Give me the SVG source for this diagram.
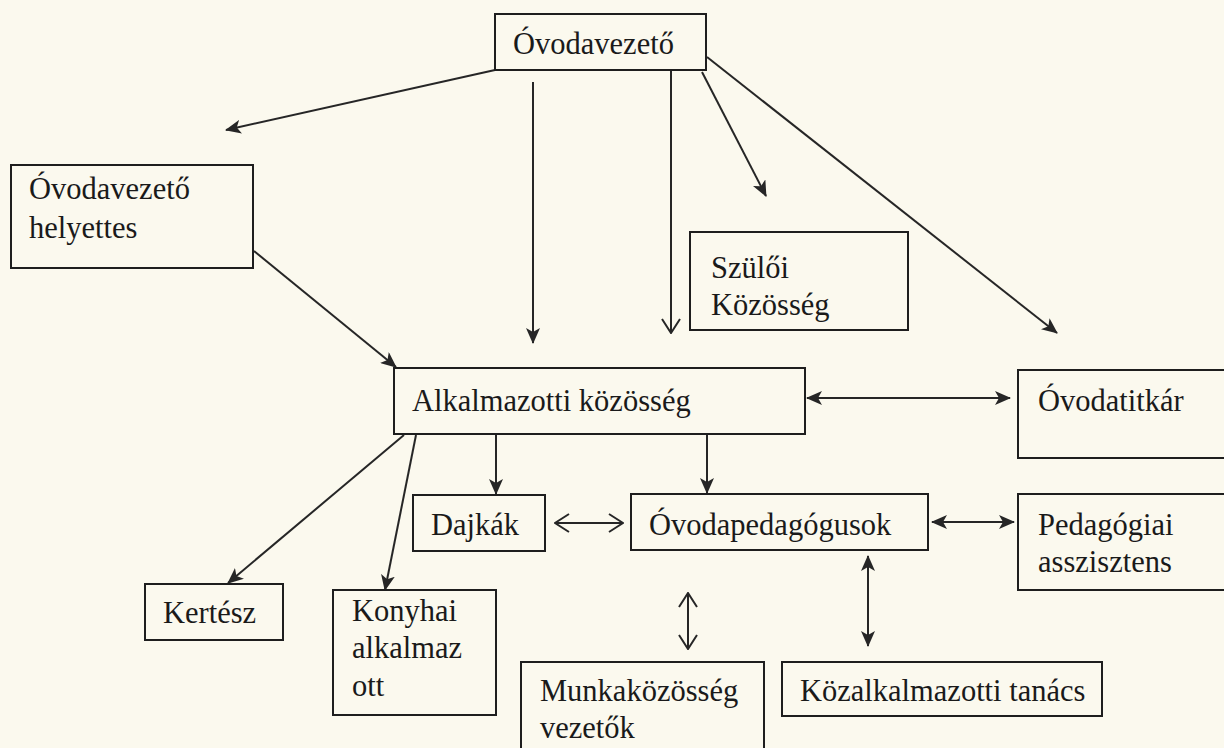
<svg xmlns="http://www.w3.org/2000/svg" width="1224" height="748" viewBox="0 0 1224 748">
  <style>
    .box { fill: none; stroke: #1e1e1e; stroke-width: 2; }
    .lbl { font-family: "Liberation Serif", "Times New Roman", serif; font-size: 30.5px; fill: #1a1a1a; }
    .ln { fill: none; stroke: #262626; stroke-width: 2; }
  </style>
  <defs>
    <!-- filled arrowhead with a slight notch -->
    <marker id="solid" viewBox="0 0 16 14" refX="15" refY="7" markerWidth="16" markerHeight="14" markerUnits="userSpaceOnUse" orient="auto-start-reverse">
      <path d="M0,0 L16,7 L0,14 L4,7 Z" fill="#262626"/>
    </marker>
    <!-- open chevron arrowhead -->
    <marker id="open" viewBox="0 0 16 20" refX="15" refY="10" markerWidth="16" markerHeight="20" markerUnits="userSpaceOnUse" orient="auto-start-reverse">
      <path d="M1,1 L15,10 L1,19" fill="none" stroke="#262626" stroke-width="2"/>
    </marker>
  </defs>
  <rect width="1224" height="748" fill="#fbf9ee"/>

  <g id="connectors">
    <line class="ln" x1="495" y1="70" x2="226" y2="130" marker-end="url(#solid)"/>
    <line class="ln" x1="533" y1="82" x2="533" y2="343" marker-end="url(#solid)"/>
    <line class="ln" x1="671" y1="70" x2="671" y2="333" marker-end="url(#open)"/>
    <line class="ln" x1="702" y1="72" x2="766" y2="196" marker-end="url(#solid)"/>
    <line class="ln" x1="707" y1="57" x2="1057" y2="333" marker-end="url(#solid)"/>
    <line class="ln" x1="254" y1="251" x2="396" y2="367" marker-end="url(#solid)"/>
    <line class="ln" x1="807" y1="398" x2="1010" y2="398" marker-start="url(#solid)" marker-end="url(#solid)"/>
    <line class="ln" x1="496" y1="434" x2="496" y2="494" marker-end="url(#solid)"/>
    <line class="ln" x1="707" y1="434" x2="707" y2="493" marker-end="url(#solid)"/>
    <line class="ln" x1="404" y1="435" x2="228" y2="583" marker-end="url(#solid)"/>
    <line class="ln" x1="416" y1="435" x2="385" y2="590" marker-end="url(#solid)"/>
    <line class="ln" x1="555" y1="523" x2="623" y2="523" marker-start="url(#open)" marker-end="url(#open)"/>
    <line class="ln" x1="932" y1="522" x2="1014" y2="522" marker-start="url(#solid)" marker-end="url(#solid)"/>
    <line class="ln" x1="688" y1="593" x2="688" y2="649" marker-start="url(#open)" marker-end="url(#open)"/>
    <line class="ln" x1="868" y1="556" x2="868" y2="646" marker-start="url(#solid)" marker-end="url(#solid)"/>
  </g>

  <g id="ovodavezeto">
    <rect class="box" x="495" y="14" width="211" height="56"/>
    <text class="lbl" x="513" y="54">Óvodavezető</text>
  </g>
  <g id="helyettes">
    <rect class="box" x="11" y="165" width="242" height="103"/>
    <text class="lbl" x="29" y="199">Óvodavezető</text>
    <text class="lbl" x="29" y="238">helyettes</text>
  </g>
  <g id="szuloi">
    <rect class="box" x="690" y="232" width="218" height="98"/>
    <text class="lbl" x="711" y="278">Szülői</text>
    <text class="lbl" x="711" y="315">Közösség</text>
  </g>
  <g id="alkalmazotti">
    <rect class="box" x="394" y="368" width="411" height="66"/>
    <text class="lbl" x="412" y="411">Alkalmazotti közösség</text>
  </g>
  <g id="ovodatitkar">
    <rect class="box" x="1018" y="370" width="210" height="88"/>
    <text class="lbl" x="1038" y="411">Óvodatitkár</text>
  </g>
  <g id="dajkak">
    <rect class="box" x="413" y="495" width="132" height="56"/>
    <text class="lbl" x="431" y="535">Dajkák</text>
  </g>
  <g id="ovodapedagogusok">
    <rect class="box" x="631" y="494" width="297" height="56"/>
    <text class="lbl" x="649" y="535">Óvodapedagógusok</text>
  </g>
  <g id="pedagogiai">
    <rect class="box" x="1018" y="494" width="210" height="96"/>
    <text class="lbl" x="1038" y="535">Pedagógiai</text>
    <text class="lbl" x="1038" y="572">asszisztens</text>
  </g>
  <g id="kertesz">
    <rect class="box" x="145" y="584" width="138" height="56"/>
    <text class="lbl" x="163" y="623">Kertész</text>
  </g>
  <g id="konyhai">
    <rect class="box" x="333" y="590" width="163" height="125"/>
    <text class="lbl" x="352" y="621">Konyhai</text>
    <text class="lbl" x="352" y="658">alkalmaz</text>
    <text class="lbl" x="352" y="696">ott</text>
  </g>
  <g id="munkakozosseg">
    <rect class="box" x="521" y="662" width="243" height="95"/>
    <text class="lbl" x="540" y="701">Munkaközösség</text>
    <text class="lbl" x="540" y="738">vezetők</text>
  </g>
  <g id="kozalkalmazotti">
    <rect class="box" x="782" y="662" width="320" height="54"/>
    <text class="lbl" x="800" y="701">Közalkalmazotti tanács</text>
  </g>
</svg>
